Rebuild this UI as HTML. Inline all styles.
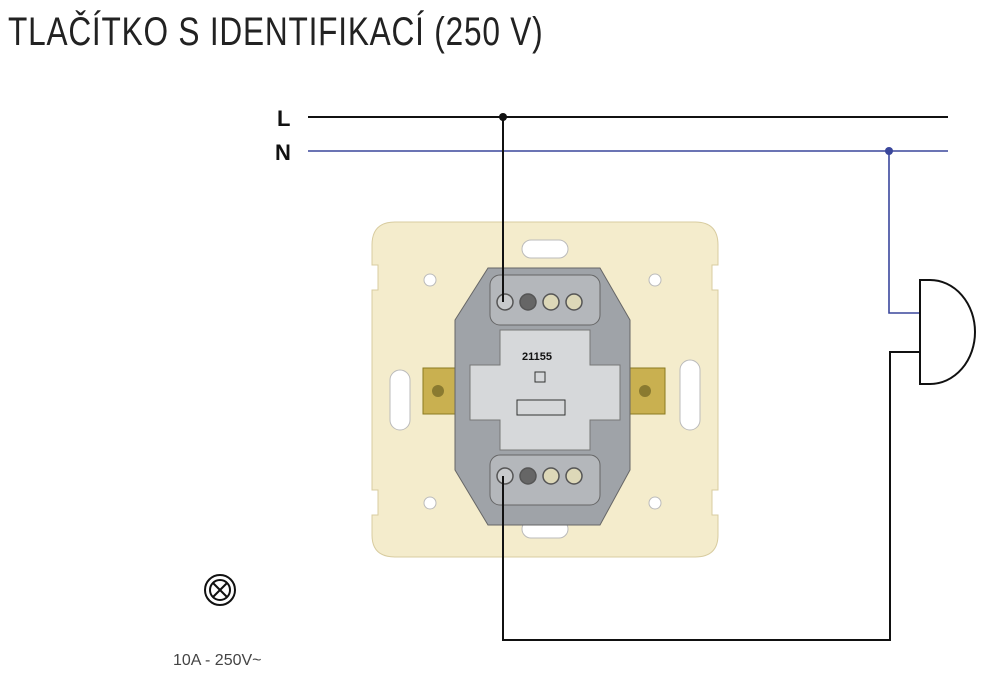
<!DOCTYPE html>
<html><head><meta charset="utf-8"><style>
body{margin:0;background:#fff;width:1000px;height:689px;overflow:hidden;position:relative;font-family:"Liberation Sans",sans-serif}
.t{position:absolute;left:8px;top:10px;font-size:40px;color:#222;transform:scaleX(0.79);transform-origin:0 0;white-space:nowrap;letter-spacing:1px}
</style></head><body>
<div class="t">TLAČÍTKO S IDENTIFIKACÍ (250 V)</div>
<svg width="1000" height="689" style="position:absolute;left:0;top:0">
<path d="M395 222 H695 Q718 222 718 245 V265 H712 V290 H718 V490 H712 V515 H718 V535 Q718 557 695 557 H395 Q372 557 372 535 V515 H378 V490 H372 V290 H378 V265 H372 V245 Q372 222 395 222Z" fill="#f4eccc" stroke="#d8cca0"/>
<rect x="522" y="240" width="46" height="18" rx="9" fill="#fff" stroke="#bbb"/>
<rect x="522" y="520" width="46" height="18" rx="9" fill="#fff" stroke="#bbb"/>
<rect x="390" y="370" width="20" height="60" rx="10" fill="#fff" stroke="#bbb"/>
<rect x="680" y="360" width="20" height="70" rx="10" fill="#fff" stroke="#bbb"/>
<circle cx="430" cy="280" r="6" fill="#fff" stroke="#bbb"/><circle cx="655" cy="280" r="6" fill="#fff" stroke="#bbb"/>
<circle cx="430" cy="503" r="6" fill="#fff" stroke="#bbb"/><circle cx="655" cy="503" r="6" fill="#fff" stroke="#bbb"/>
<rect x="423" y="368" width="45" height="46" fill="#c9b050" stroke="#8a7a20"/>
<circle cx="438" cy="391" r="6" fill="#8a7a30"/>
<rect x="620" y="368" width="45" height="46" fill="#c9b050" stroke="#8a7a20"/>
<circle cx="645" cy="391" r="6" fill="#8a7a30"/>
<path d="M488 268 H600 L630 320 V470 L600 525 H488 L455 470 V320Z" fill="#9fa3a8" stroke="#666"/>
<rect x="490" y="275" width="110" height="50" rx="10" fill="#b4b7bb" stroke="#666"/>
<rect x="490" y="455" width="110" height="50" rx="10" fill="#b4b7bb" stroke="#666"/>
<path d="M500 330 H590 V365 H620 V420 H590 V450 H500 V420 H470 V365 H500Z" fill="#d6d8da" stroke="#777"/>
<g fill="#c8cacc" stroke="#555" stroke-width="1.5">
<circle cx="505" cy="302" r="8"/><circle cx="528" cy="302" r="8" fill="#666"/><circle cx="551" cy="302" r="8" fill="#ddd8b8"/><circle cx="574" cy="302" r="8" fill="#ddd8b8"/>
<circle cx="505" cy="476" r="8"/><circle cx="528" cy="476" r="8" fill="#666"/><circle cx="551" cy="476" r="8" fill="#ddd8b8"/><circle cx="574" cy="476" r="8" fill="#ddd8b8"/>
</g>
<text x="522" y="360" font-size="11" font-weight="bold" fill="#111">21155</text>
<rect x="535" y="372" width="10" height="10" fill="none" stroke="#333"/>
<path d="M517 400 H565 V415 H517Z" fill="none" stroke="#333"/>
<line x1="308" y1="117" x2="948" y2="117" stroke="#111" stroke-width="2"/>
<line x1="308" y1="151" x2="948" y2="151" stroke="#3a479c" stroke-width="1.6"/>
<circle cx="503" cy="117" r="4" fill="#111"/>
<circle cx="889" cy="151" r="4" fill="#3a479c"/>
<line x1="503" y1="117" x2="503" y2="302" stroke="#111" stroke-width="2"/>
<polyline points="503,476 503,640 890,640 890,352 920,352" fill="none" stroke="#111" stroke-width="2"/>
<polyline points="889,151 889,313 920,313" fill="none" stroke="#3a479c" stroke-width="1.6"/>
<path d="M920 280 H930 A45 52 0 0 1 930 384 H920 Z" fill="#fff" stroke="#111" stroke-width="2"/>
<text x="277" y="126" font-size="22" font-weight="bold" fill="#111">L</text>
<text x="275" y="160" font-size="22" font-weight="bold" fill="#111">N</text>
<circle cx="220" cy="590" r="15" fill="none" stroke="#111" stroke-width="2"/>
<circle cx="220" cy="590" r="10" fill="none" stroke="#111" stroke-width="2"/>
<line x1="213" y1="583" x2="227" y2="597" stroke="#111" stroke-width="2"/>
<line x1="227" y1="583" x2="213" y2="597" stroke="#111" stroke-width="2"/>
<text x="173" y="665" font-size="16" fill="#444">10A - 250V~</text>
</svg>
</body></html>
